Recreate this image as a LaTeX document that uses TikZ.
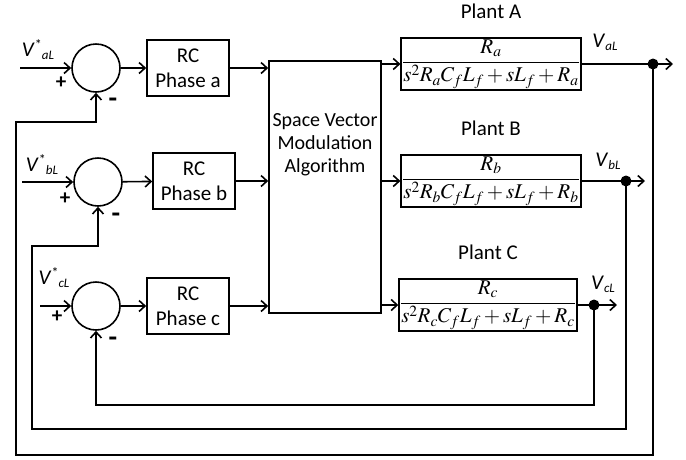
\documentclass[tikz,border=0pt]{standalone}
\usepackage{amsmath}
\usepackage{mathptmx}
\usepackage[no-math]{fontspec}
\setsansfont{Carlito}
\usepackage{tikz}
\usetikzlibrary{positioning,calc,arrows.meta}
\newcommand{\Vstar}[1]{\textit{V}\raisebox{7pt}{\fontsize{14}{14}\selectfont *}\raisebox{-3pt}{\fontsize{13}{13}\selectfont\itshape #1}}
\newcommand{\Vout}[1]{\textit{V}\raisebox{-3pt}{\fontsize{13}{13}\selectfont\itshape #1}}

\begin{document}
\begin{tikzpicture}[x=1pt, y=-1pt, line width=1.6pt,
  font=\sffamily\fontsize{21}{25}\selectfont,
  sum/.style={circle, draw, minimum size=48pt, inner sep=0pt},
  rcbox/.style={rectangle, draw, minimum width=82pt, minimum height=56pt, align=center, inner sep=0pt},
  svmbox/.style={rectangle, draw, minimum width=112pt, minimum height=252pt, inner sep=0pt},
  plantbox/.style={rectangle, draw, minimum width=176pt, minimum height=52pt, inner sep=1pt, font=\fontsize{21}{25}\selectfont},
  junction/.style={circle, fill, minimum size=11pt, inner sep=0pt},
  arrow/.style={-{Straight Barb[length=6pt,width=11pt]}},
  signlbl/.style={font=\sffamily\bfseries\fontsize{21}{25}\selectfont, inner sep=0pt},
  minuslbl/.style={font=\sffamily\bfseries\fontsize{28}{30}\selectfont, inner sep=0pt}
]
  \useasboundingbox (0,0) rectangle (686,459);

  % summing junctions and controllers
  \node[sum] (suma) at (96,68) {};
  \node[sum] (sumb) at (98,182) {};
  \node[sum] (sumc) at (96,306) {};
  \node[rcbox] (rca) at (188,68) {RC\\Phase a};
  \node[rcbox] (rcb) at (194,181) {RC\\Phase b};
  \node[rcbox] (rcc) at (188,306) {RC\\Phase c};

  \node[svmbox] (svm) at (325,187) {};
  \node[align=center, font=\sffamily\fontsize{20}{23}\selectfont, below=49pt of svm.north] (svmtext) {Space Vector\\Modulation\\Algorithm};

  % plants
  \node[plantbox] (planta) at (491,64) {$\dfrac{R_a}{s^2R_aC_fL_f+sL_f+R_a}$};
  \node[plantbox] (plantb) at (491,181) {$\dfrac{R_b}{s^2R_bC_fL_f+sL_f+R_b}$};
  \node[plantbox, minimum width=173pt] (plantc) at (488,305) {$\dfrac{R_c}{s^2R_cC_fL_f+sL_f+R_c}$};
  \node[above=14pt of planta] (labela) {Plant A};
  \node[above=14pt of plantb] (labelb) {Plant B};
  \node[above=14pt of plantc] (labelc) {Plant C};

  \node[junction] (ja) at (653,0 |- planta.east) {};
  \node[junction] (jb) at (626,0 |- plantb.east) {};
  \node[junction] (jc) at (594,0 |- plantc.east) {};
  \coordinate (outa) at (673,0 |- planta.east);
  \coordinate (outb) at (645,0 |- plantb.east);
  \coordinate (outc) at (617,0 |- plantc.east);

  % references
  \coordinate (ina) at (20,0 |- suma.west);
  \coordinate (inb) at (22,0 |- sumb.west);
  \coordinate (inc) at (40,0 |- sumc.west);
  \node at (38,50) {\Vstar{aL}};
  \node at (42,165) {\Vstar{bL}};
  \node at (54,278) {\Vstar{cL}};
  \node at (605,42) {\Vout{aL}};
  \node at (608,161) {\Vout{bL}};
  \node at (603,284) {\Vout{cL}};

  \node[signlbl] at (61,83) {+};
  \node[signlbl] at (65,199) {+};
  \node[signlbl] at (57,317) {+};
  \node[minuslbl] at (113,103) {-};
  \node[minuslbl] at (116,218) {-};
  \node[minuslbl] at (113,342) {-};

  % forward path
  \draw[arrow] (ina) -- (suma.west);
  \draw[arrow] (inb) -- (sumb.west);
  \draw[arrow] (inc) -- (sumc.west);
  \draw[arrow] (suma) -- (rca);
  \draw[arrow] (sumb) -- (rcb);
  \draw[arrow] (sumc) -- (rcc);
  \draw[arrow] (rca.east) -- (rca.east -| svm.west);
  \draw[arrow] (rcb.east) -- (rcb.east -| svm.west);
  \draw[arrow] (rcc.east) -- (rcc.east -| svm.west);
  \draw[arrow] (svm.east |- planta.west) -- (planta.west);
  \draw[arrow] (svm.east |- plantb.west) -- (plantb.west);
  \draw[arrow] (svm.east |- plantc.west) -- (plantc.west);
  \draw[arrow] (planta.east) -- (outa);
  \draw[arrow] (plantb.east) -- (outb);
  \draw[arrow] (plantc.east) -- (outc);

  % feedback
  \draw[arrow] (ja.center) -- (ja |- 0,455) -| (16,122) -| (suma.south);
  \draw[arrow] (jb.center) -- (jb |- 0,429) -| (32,246) -| (sumb.south);
  \draw[arrow] (jc.center) -- (jc |- 0,405) -| (sumc.south);
\end{tikzpicture}
\end{document}
